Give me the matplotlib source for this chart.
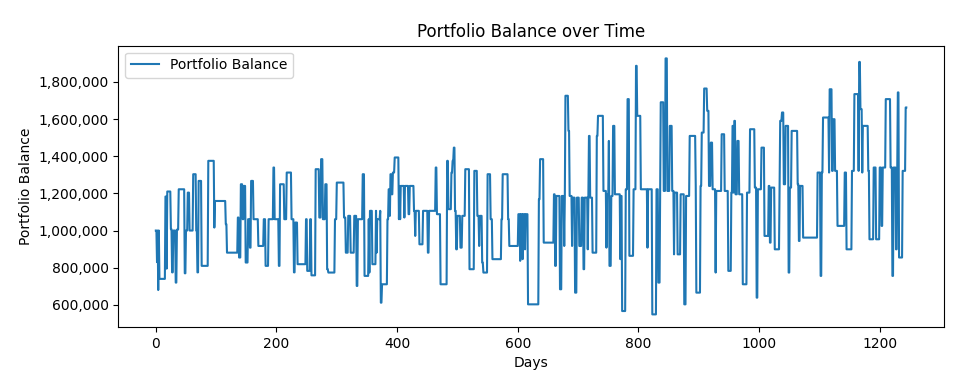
import numpy as np
import matplotlib
matplotlib.use('Agg')
import matplotlib.pyplot as plt
from matplotlib.ticker import FuncFormatter

# ── Data: day where the balance changes, and the balance (in thousands) held from that day ──
change_day = [
    0, 2, 3, 4, 5, 6, 16, 18, 19, 25, 27, 29, 33, 35, 38, 48, 50, 53, 56, 62, 67, 69, 71, 76, 87, 97, 98,
    116, 118, 136, 138, 141, 144, 146, 149, 153, 156, 158, 162, 170, 179, 182, 187, 195, 197, 204, 206,
    213, 217, 225, 229, 231, 235,
    249, 251, 256, 258, 265, 271, 274, 277, 281, 284, 286, 297, 300, 312, 315, 319, 323, 329, 333, 335,
    343, 346, 353,
    354, 355, 359, 365, 366, 367, 372, 373, 375, 384, 386, 388, 389, 391, 393, 396, 403, 404, 405, 406,
    412, 413, 419, 421, 428, 430, 431, 437, 443, 451, 453, 464, 466, 472, 483,
    485, 490, 492, 494, 496, 498, 500, 505, 508, 513, 520, 528, 533, 536, 537, 541, 543, 550, 555, 558,
    573, 575, 584, 586, 601,
    604, 605, 608, 609, 612, 613, 617, 635, 637, 643, 660, 662, 664, 670, 673, 677, 678, 679, 684, 686,
    690, 691, 695, 698, 702, 706, 709, 711, 716, 717, 718, 720, 724, 731,
    733, 742, 747, 748, 751, 752, 755, 758, 761, 770, 771, 773, 779, 782, 785, 792, 796, 798, 804, 815,
    816, 823, 830, 833, 836, 837, 842, 845, 848, 852, 856,
    859, 860, 865, 870, 876, 879, 885, 895, 896, 903, 905, 909, 914, 917, 920, 923, 928, 929, 938, 943,
    949, 954, 956, 958, 959, 961, 964, 967, 973,
    980, 985, 993, 996, 998, 1004, 1009, 1016, 1018, 1020, 1026, 1034, 1035, 1038, 1041, 1044, 1049,
    1051, 1054, 1064, 1066, 1068, 1073,
    1097, 1102, 1104, 1106, 1116, 1117, 1121, 1123, 1126, 1130, 1142, 1145, 1154, 1158, 1165, 1166,
    1168, 1171, 1172, 1181, 1183, 1190, 1194, 1200, 1203, 1205, 1210, 1218, 1221, 1223, 1227, 1229,
    1230, 1232, 1238, 1243,
]
balance_k = [
    1000, 830, 1000, 680, 1000, 740, 1183, 795, 1210, 1007, 775, 1000, 720, 1005, 1222, 770, 1000, 1204,
    1000, 1303, 1000, 775, 1267, 810, 1375, 1016, 1159,
    1034, 881, 1070, 855, 1249, 1061, 1240, 828, 1061, 908, 1267, 1061, 917, 1061, 810, 1061, 1339, 1061,
    810, 1249, 1061, 1312, 1061, 775, 1043, 819,
    1061, 783, 1061, 759, 1330, 1070, 1384, 1061, 1249, 792, 774, 1061, 1258, 1070, 881, 1079, 881, 1079,
    702, 1061, 1303, 756, 1061,
    774, 1106, 819, 1106, 881, 1061, 1106, 612, 711, 1061, 1222, 1079, 1303, 1195, 1312, 1393, 1061, 1240,
    1061, 1240, 1070, 1240, 1088, 1240, 1106, 971, 1106, 926, 1106, 881, 1106, 1339, 1088, 711, 1375,
    1115, 1312, 1375, 1446, 1106, 899, 1079, 908, 1079, 1330, 792, 1321, 1079, 917, 1079, 828, 774, 1303,
    1061, 846, 1061, 1303, 1061, 917, 1088,
    837, 1088, 846, 1088, 899, 1088, 603, 1168, 1384, 935, 1195, 810, 1186, 684, 1186, 917, 1186, 1725,
    1536, 1186, 917, 1177, 666, 1177, 917, 1177, 792, 1177, 899, 1177, 1509, 1177, 881, 1509,
    1617, 1213, 908, 1195, 1482, 810, 1186, 1563, 1195, 846, 1186, 567, 1222, 1707, 864, 1222, 1886, 1617,
    1222, 908, 1222, 549, 1222, 720, 1222, 1690, 1213, 1926, 1213, 1563, 1213,
    872, 1204, 872, 1195, 603, 1186, 1509, 1240, 666, 1240, 1527, 1764, 1644, 1240, 1473, 1222, 774, 1213,
    1518, 1213, 783, 1204, 1563, 1204, 1590, 1195, 1482, 1195, 711,
    1204, 1545, 1231, 639, 1222, 1446, 971, 1240, 935, 1231, 899, 1240, 1590, 1635, 1249, 1563, 774, 1231,
    1536, 1249, 944, 1240, 962,
    1312, 756, 1312, 1608, 1312, 1760, 1321, 1599, 1321, 1025, 1312, 899, 1321, 1734, 1321, 1907, 1653,
    1312, 1563, 1321, 953, 1339, 953, 1339, 1025, 1339, 1707, 1339, 756, 1339, 899, 1339, 1743, 855,
    1321, 1662,
]
n_days = 1245

# expand the step changes into one value per day
run_len = np.diff(change_day + [n_days])
days = np.arange(n_days)
balance = np.repeat(np.array(balance_k) * 1000.0, run_len)

# ── Figure ──
fig, ax = plt.subplots(figsize=(9.72, 3.8), dpi=100)
ax.plot(days, balance, label='Portfolio Balance')
ax.set_title('Portfolio Balance over Time')
ax.set_xlabel('Days')
ax.set_ylabel('Portfolio Balance')
ax.yaxis.set_major_formatter(FuncFormatter(lambda v, p: f'{v:,.0f}'))
ax.legend(loc='upper left')
fig.subplots_adjust(left=0.1217, right=0.971, top=0.880, bottom=0.139)
plt.savefig('out.png', dpi=100)
